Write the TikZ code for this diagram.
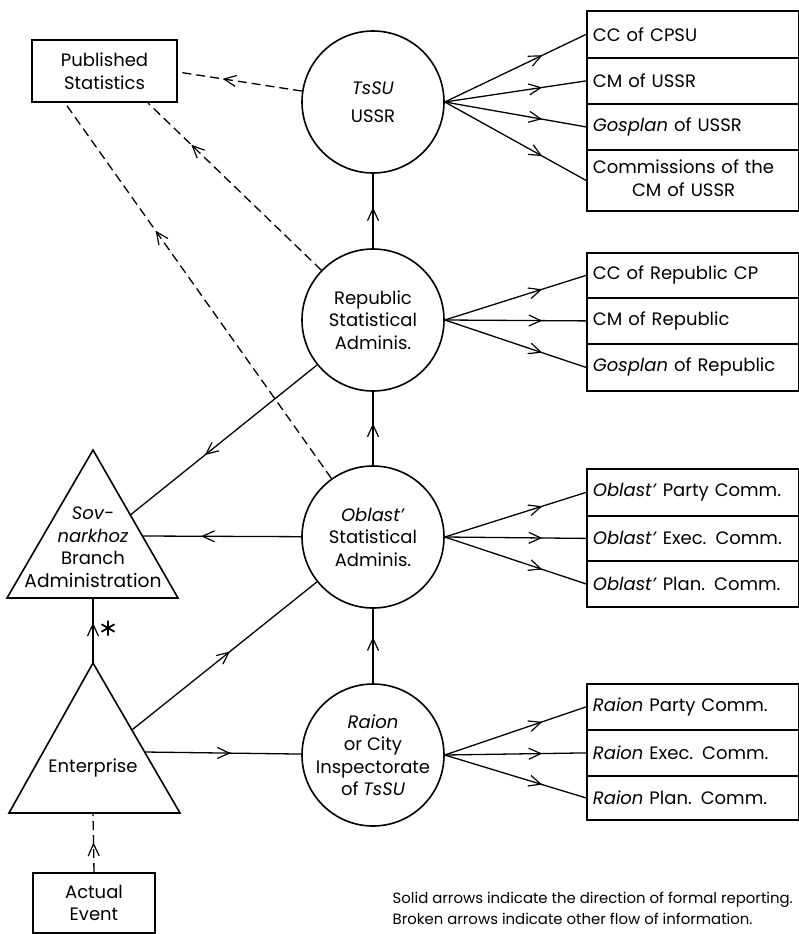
\documentclass[tikz,border=0pt]{standalone}
\usepackage{fontspec}
\setmainfont{Poppins}
\usetikzlibrary{arrows.meta,decorations.markings}
\tikzset{
  myhead/.tip={Straight Barb[length=12pt,width=11pt,line width=1.2pt]},
  midarr/.style={postaction={decorate},decoration={markings,mark=at position #1 with {\arrow[solid]{myhead}}}},
  brk/.style={dash pattern=on 9pt off 5pt},
  circ/.style={circle,draw,line width=1.6pt,minimum size=142pt,inner sep=0pt,align=center},
  pbox/.style={rectangle,draw,line width=2pt,align=center,inner sep=0pt},
  rbox/.style={rectangle,draw,line width=1.8pt,anchor=north west,text width=200pt,inner xsep=6pt,inner ysep=0pt,align=left},
  lbl/.style={align=center,inner sep=0pt}
}
\begin{document}
\begin{tikzpicture}[x=1pt,y=-1pt,line width=1.3pt,
  every node/.style={font=\fontsize{18}{22.5}\selectfont}]
\useasboundingbox (0,0) rectangle (799,934);

% circles
\node[circ] (tsu) at (373,102) {\textit{TsSU}\\[5pt]USSR};
\node[circ] (rep) at (373,320) {Republic\\Statistical\\Adminis.};
\node[circ] (obl) at (373,537) {\textit{Oblast'}\\Statistical\\Adminis.};
\node[circ] (rai) at (373,755) {\textit{Raion}\\or City\\Inspectorate\\of \textit{TsSU}};

% boxes left
\node[pbox,minimum width=145pt,minimum height=62pt] (pub) at (104.5,71) {Published\\Statistics};
\node[pbox,minimum width=122pt,minimum height=60pt] (act) at (94,903) {Actual\\Event};

% triangles
\draw[line width=1.6pt,line join=miter] (93,450) coordinate (sovTop) -- (178,598) -- (7,598) -- cycle;
\coordinate (sovBase) at (93,598);
\coordinate (sovR1) at (142.4,536);
\coordinate (sovR2) at (130.3,515);
\node[lbl] (sovtxt) at (93,547) {\textit{Sov-}\\\textit{narkhoz}\\Branch\\\resizebox{137pt}{!}{Administration}};

\draw[line width=1.6pt,line join=miter] (93,663) coordinate (entTop) -- (180,813) -- (9,813) -- cycle;
\coordinate (entBase) at (93,813);
\coordinate (entR1) at (131.9,730);
\coordinate (entR2) at (144.6,752);
\node[lbl] (enttxt) at (93,768) {Enterprise};

% right boxes
\node[rbox,minimum height=47pt] (b1) at (586,10) {CC of CPSU};
\node[rbox,minimum height=46pt] (b2) at (586,57) {CM of USSR};
\node[rbox,minimum height=46pt] (b3) at (586,103) {\textit{Gosplan} of USSR};
\node[rbox,minimum height=61pt] (b4) at (586,149) {\begin{tabular}{@{}c@{}}Commissions of the\\CM of USSR\end{tabular}};

\node[rbox,minimum height=45pt] (r1) at (586,252) {CC of Republic CP};
\node[rbox,minimum height=46pt] (r2) at (586,297) {CM of Republic};
\node[rbox,minimum height=47pt] (r3) at (586,343) {\textit{Gosplan} of Republic};

\node[rbox,minimum height=47pt] (o1) at (586,468) {\textit{Oblast'} Party Comm.};
\node[rbox,minimum height=45pt] (o2) at (586,515) {\textit{Oblast'} Exec. Comm.};
\node[rbox,minimum height=46pt] (o3) at (586,560) {\textit{Oblast'} Plan. Comm.};

\node[rbox,minimum height=46pt] (d1) at (586,683) {\textit{Raion} Party Comm.};
\node[rbox,minimum height=46pt] (d2) at (586,729) {\textit{Raion} Exec. Comm.};
\node[rbox,minimum height=44pt] (d3) at (586,775) {\textit{Raion} Plan. Comm.};

% fan arrows
\foreach \b in {b1,b2,b3,b4} \draw[midarr=0.69] (tsu.east) -- (\b.west);
\foreach \b in {r1,r2,r3} \draw[midarr=0.69] (rep.east) -- (\b.west);
\foreach \b in {o1,o2,o3} \draw[midarr=0.69] (obl.east) -- (\b.west);
\foreach \b in {d1,d2,d3} \draw[midarr=0.69] (rai.east) -- (\b.west);

% vertical reporting
\draw[midarr=0.55] (rep) -- (tsu);
\draw[midarr=0.57] (obl) -- (rep);
\draw[midarr=0.62] (rai) -- (obl);

% to sovnarkhoz
\draw[midarr=0.6] (rep) -- (sovR2);
\draw[midarr=0.63] (obl) -- (sovR1);
\draw[midarr=0.62] (entTop) -- (sovBase);
\coordinate (star) at (108,628);
\draw[line width=1.8pt] ([shift={(0,-7.5)}]star) -- ([shift={(0,7.5)}]star)
  ([shift={(-6.5,-3.75)}]star) -- ([shift={(6.5,3.75)}]star)
  ([shift={(-6.5,3.75)}]star) -- ([shift={(6.5,-3.75)}]star);

% from enterprise
\draw[midarr=0.53] (entR1) -- (obl);
\draw[midarr=0.55] (entR2) -- (rai);

% broken arrows
\draw[brk,midarr=0.5] (act.north) -- (entBase);
\draw[brk,midarr=0.64] (tsu) -- ([yshift=-1pt]pub.east);
\draw[brk,midarr=0.75] (rep) -- (pub.south -| 148,0);
\draw[brk,midarr=0.66] (obl) -- (pub.south -| 65,0);

% legend
\node[anchor=west,align=left,inner sep=0pt,font=\fontsize{14.9}{21}\selectfont] (legend) at (392,908) {Solid arrows indicate the direction of formal reporting.\\Broken arrows indicate other flow of information.};
\end{tikzpicture}
\end{document}
